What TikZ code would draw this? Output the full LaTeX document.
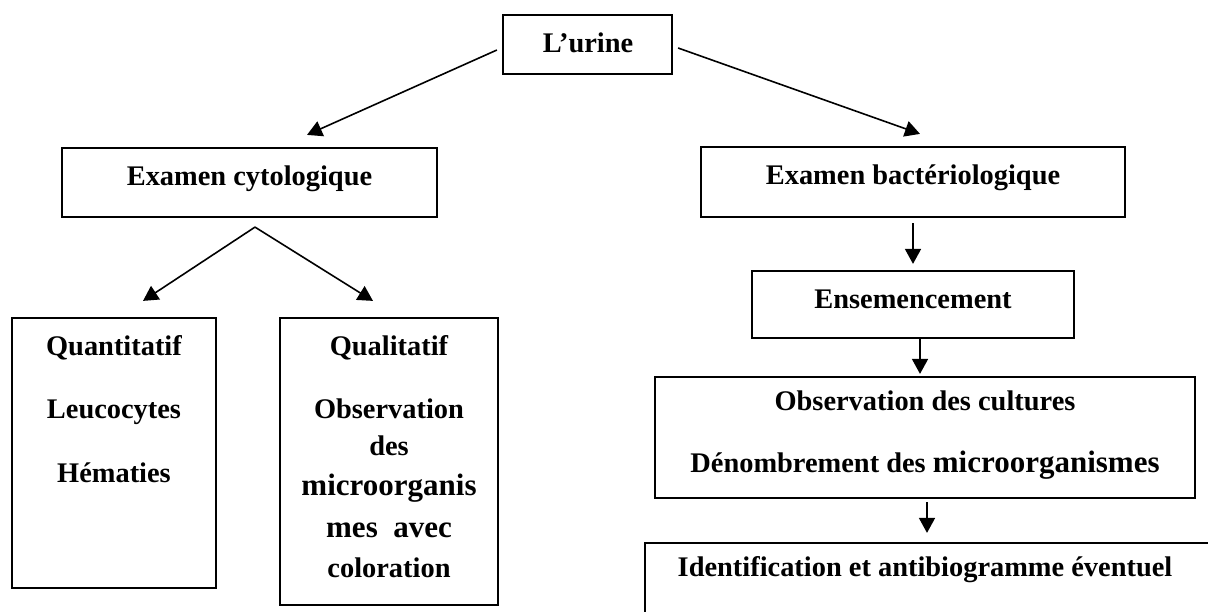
\documentclass[tikz,border=0pt]{standalone}
\usepackage{fontspec}
\setmainfont{Liberation Serif}
\usetikzlibrary{calc,arrows.meta}
\newcommand{\microfont}{\fontsize{15.5}{18}\selectfont}

\begin{document}
\begin{tikzpicture}[x=0.5pt, y=-0.5pt,
  box/.style={draw, rectangle, line width=1.1pt, inner sep=0pt},
  txt/.style={inner sep=0pt, anchor=base, font=\bfseries\fontsize{14.2}{17}\selectfont},
  arr/.style={line width=0.8pt, -{Triangle[length=7.5pt, width=8pt]}}
  ]
  \useasboundingbox (0,0) rectangle (1208,611);
  \clip (0,0) rectangle (1208,611);

  % boxes
  \node[box, minimum width=84.5pt, minimum height=29.5pt] (urine) at (587.5,44.5) {};
  \node[box, minimum width=187.5pt, minimum height=34.5pt] (cyto) at (249.5,182.5) {};
  \node[box, minimum width=212pt, minimum height=35pt] (bact) at (913,182) {};
  \node[box, minimum width=161pt, minimum height=33.5pt] (ens) at (913,304.5) {};
  \node[box, minimum width=270pt, minimum height=60.5pt] (obs) at (925,437.5) {};
  \node[box, minimum width=285pt, minimum height=58.5pt] (ident) at (930,601.5) {};
  \node[box, minimum width=102pt, minimum height=135pt] (quant) at (114,453) {};
  \node[box, minimum width=109pt, minimum height=143.5pt] (qual) at (389,461.5) {};

  % texts
  \node[txt] (urineT) at (588,52) {L’urine};
  \node[txt] (cytoT) at (249.5,185) {Examen cytologique};
  \node[txt] (bactT) at (913,184) {Examen bactériologique};
  \node[txt] (ensT) at (913,308) {Ensemencement};
  \node[txt] (obsA) at (925,410) {Observation des cultures};
  \node[txt] (obsB) at (925,472) {Dénombrement des {\microfont microorganismes}};
  \node[txt] (identT) at (925,576) {Identification et antibiogramme éventuel};

  \node[txt] (quantA) at (114,355) {Quantitatif};
  \node[txt] (quantB) at (114,418) {Leucocytes};
  \node[txt] (quantC) at (114,482) {Hématies};

  \node[txt] (qualA) at (389,355) {Qualitatif};
  \node[txt] (qualB) at (389,418) {Observation};
  \node[txt] (qualC) at (389,455) {des};
  \node[txt] (qualD) at (389,495) {\microfont microorganis};
  \node[txt] (qualE) at (389,537) {\microfont mes\ \ avec};
  \node[txt] (qualF) at (389,577) {coloration};

  % arrows
  \coordinate (split) at ($(cyto.south)+(5.5,9)$);
  \draw[arr] ($(urine.west)+(-5,5.5)$) -- ($(cyto.north)+(57.5,-12)$);
  \draw[arr] ($(urine.east)+(5,3.5)$) -- ($(bact.north)+(7,-12)$);
  \draw[arr] ($(bact.south)+(0,5)$) -- ($(ens.north)+(0,-6)$);
  \draw[arr] ($(ens.south)+(7,0)$) -- ($(obs.north)+(-5,-2)$);
  \draw[arr] ($(obs.south)+(2,3)$) -- ($(ident.north)+(-3,-9)$);
  \draw[arr] (split) -- ($(quant.north)+(29,-16)$);
  \draw[arr] (split) -- ($(qual.north)+(-16,-16)$);
\end{tikzpicture}
\end{document}
